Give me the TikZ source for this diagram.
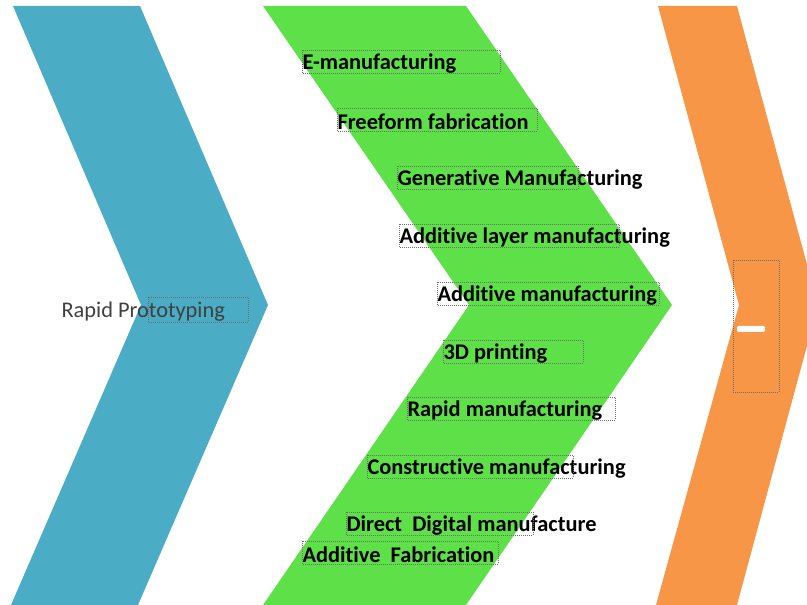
\documentclass[tikz,border=0pt]{standalone}
\usepackage{fontspec}
\setmainfont{Carlito}[Ligatures=NoCommon]

\definecolor{chevblue}{RGB}{75,172,198}
\definecolor{chevgreen}{RGB}{94,224,72}
\definecolor{chevorange}{RGB}{247,150,70}

\tikzset{every picture/.style={line width=0.75pt}}
\tikzset{
  term/.style={anchor=west, inner sep=0pt, font=\fontsize{16.8}{20}\selectfont\bfseries},
  tbox/.style={draw={rgb, 255:red, 110; green, 110; blue, 110}, densely dotted, line width=0.5pt}
}

\begin{document}
\begin{tikzpicture}[x=0.75pt,y=0.75pt,yscale=-1,xscale=1]
        \useasboundingbox (0,0) rectangle (807,605);
        \clip (0,0) rectangle (807,605);

        % Chevrons
        \fill [chevblue] (13,6) -- (140,6) -- (268,305) -- (138,605) -- (11,605) -- (141,305) -- cycle ;
        \fill [chevgreen] (263,6) -- (466,6) -- (672,305) -- (466,605) -- (263,605) -- (469,305) -- cycle ;
        \fill [chevorange] (658,6) -- (737,6) -- (818,305) -- (737,605) -- (656,605) -- (739,305) -- cycle ;

        % Left label
        \node [anchor=west, inner sep=0pt, font=\fontsize{16.8}{20}\selectfont, text={rgb, 255:red, 64; green, 64; blue, 64}] (rapidproto) at (61,312) {Rapid Prototyping};
        \draw [tbox] (148,297) rectangle (248,322) ;

        % Terms
        \node [term] (emfg) at (302,64) {E-manufacturing};
        \node [term] (freeform) at (337,122) {Freeform fabrication};
        \node [term] (generative) at (397,180) {Generative Manufacturing};
        \node [term] (addlayer) at (399,238) {Additive layer manufacturing};
        \node [term] (addmfg) at (437,296) {Additive manufacturing};
        \node [term] (threed) at (443,354) {3D printing};
        \node [term] (rapidmfg) at (407,411) {Rapid manufacturing};
        \node [term] (constructive) at (367,469) {Constructive manufacturing};
        \node [term] (directdig) at (346,526) {Direct\ \ Digital manufacture};
        \node [term] (addfab) at (302,555) {Additive\ \ Fabrication};

        % Text frames
        \foreach \n/\w in {emfg/198, freeform/200, generative/181, addlayer/220, addmfg/222, threed/140, rapidmfg/208, constructive/206, directdig/187, addfab/196}
          \draw [tbox] (\n.west) ++(0,-14) rectangle ++(\w,23) ;

        % Orange mark
        \draw [tbox] (733,260) rectangle (779,392) ;
        \node [fill=white, rounded corners=1pt, inner sep=0pt, minimum width=21pt, minimum height=4.5pt] (dash) at (751,329) {};

\end{tikzpicture}
\end{document}
